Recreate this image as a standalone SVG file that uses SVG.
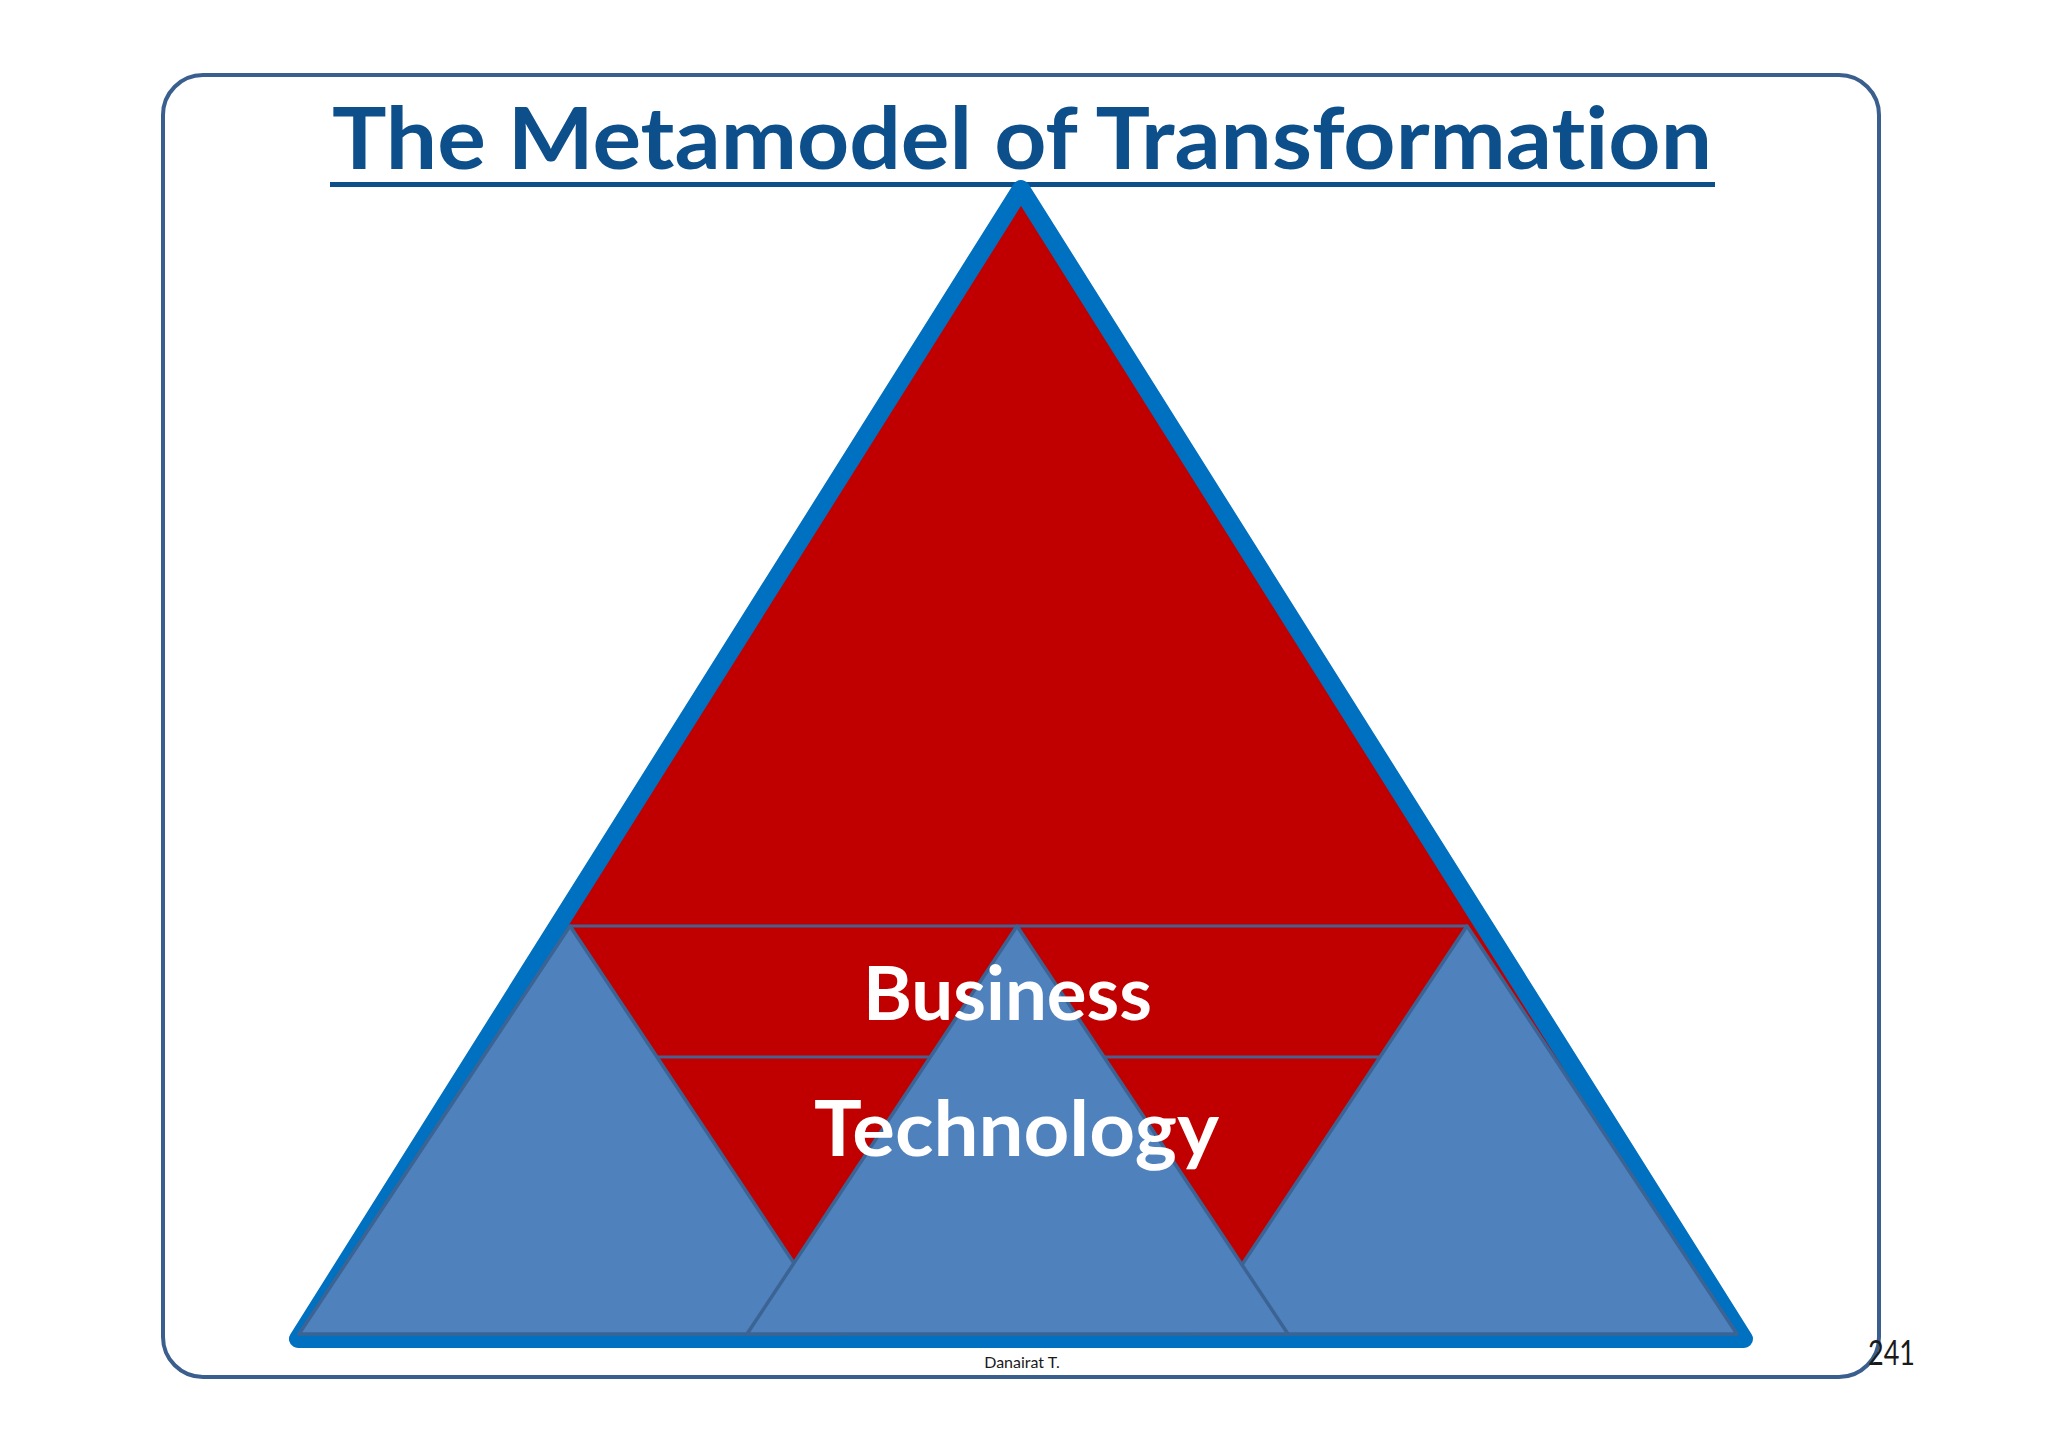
<svg xmlns="http://www.w3.org/2000/svg" width="2048" height="1448" viewBox="0 0 2048 1448">
  <style>
    text { font-variant-ligatures: none; font-feature-settings: "liga" 0, "clig" 0; }
    .frame { fill: #ffffff; stroke: #3a5f8e; stroke-width: 4; }
    .title { font-family: Lato, "Open Sans", "Liberation Sans", sans-serif; font-weight: bold; fill: #0d4f8b; }
    .lbl { font-family: Lato, "Open Sans", "Liberation Sans", sans-serif; font-weight: bold; fill: #ffffff; }
    .blue { fill: #4f81bd; stroke: #3b6494; stroke-width: 3.5; stroke-linejoin: round; }
    .sep { stroke: #4a5f8e; stroke-width: 3; fill: none; }
    .foot { font-family: Lato, "Liberation Sans", sans-serif; fill: #1a1a1a; }
  </style>
  <rect width="2048" height="1448" fill="#ffffff"/>
  <g id="frame">
    <rect class="frame" x="163" y="75" width="1716" height="1302" rx="40" ry="40"/>
  </g>
  <g id="title">
    <text class="title" x="332" y="169" font-size="86" textLength="1380" lengthAdjust="spacingAndGlyphs">The Metamodel of Transformation</text>
    <rect x="330" y="182" width="1385" height="5" fill="#0d4f8b"/>
  </g>
  <g id="pyramid">
    <polygon points="1021,189 298,1339 1744,1339" fill="#c00000" stroke="#0070c0" stroke-width="18" stroke-linejoin="round"/>
  </g>
  <g id="connectors">
    <line class="sep" x1="570" y1="926" x2="1467" y2="926"/>
    <line class="sep" x1="657" y1="1057" x2="1380" y2="1057"/>
  </g>
  <g id="left-triangle">
    <polygon class="blue" points="570,926 299,1334 841,1334"/>
  </g>
  <g id="right-triangle">
    <polygon class="blue" points="1467,926 1196,1334 1737,1334"/>
  </g>
  <g id="middle-triangle">
    <polygon class="blue" points="1017,926 747,1334 1288,1334"/>
  </g>
  <g id="business">
    <text class="lbl" x="863" y="1020" font-size="75" textLength="289" lengthAdjust="spacingAndGlyphs">Business</text>
  </g>
  <g id="technology">
    <text class="lbl" x="814" y="1156" font-size="76" textLength="405" lengthAdjust="spacingAndGlyphs">Technology</text>
  </g>
  <g id="footer">
    <text class="foot" x="1022" y="1368" font-size="16" text-anchor="middle">Danairat T.</text>
    <text class="foot" x="1868" y="1365" font-size="34" textLength="47" lengthAdjust="spacingAndGlyphs" fill="#000000">241</text>
  </g>
</svg>
